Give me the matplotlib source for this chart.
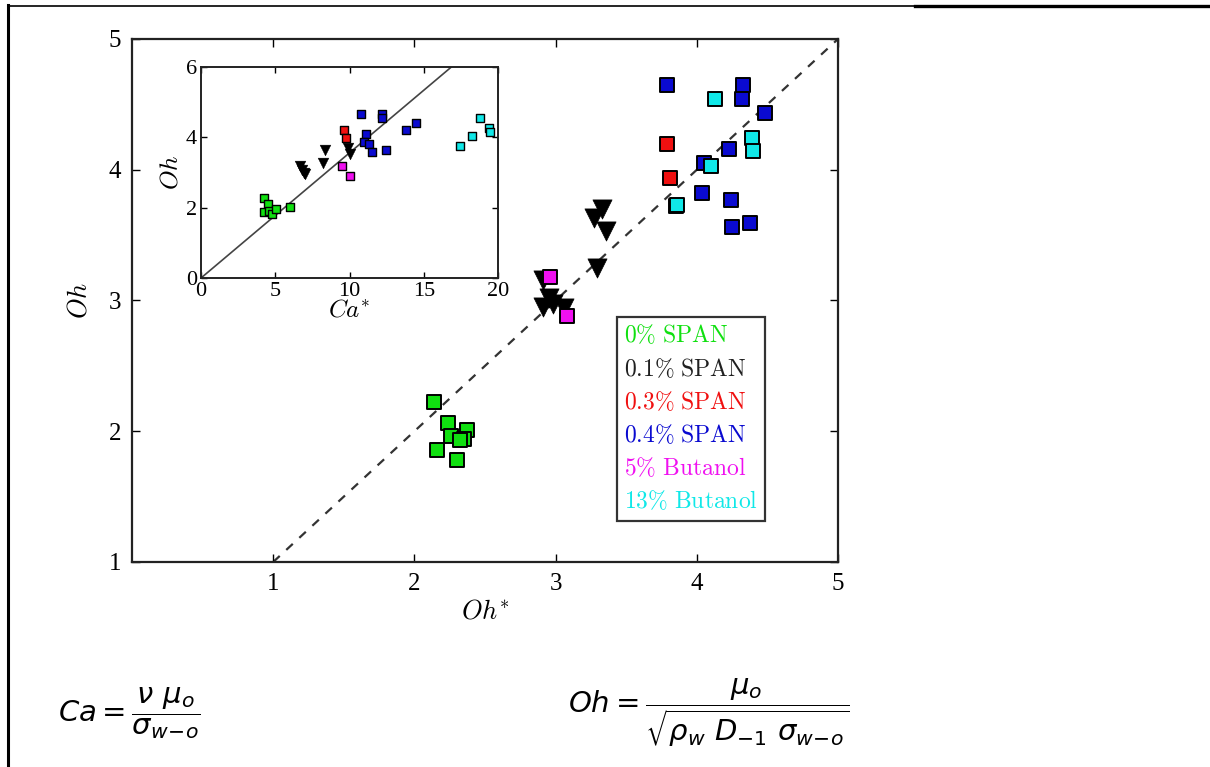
import numpy as np
import matplotlib
matplotlib.use("Agg")
import matplotlib.pyplot as plt
from matplotlib.lines import Line2D

plt.rcParams['mathtext.fontset'] = 'cm'
plt.rcParams['font.family'] = ['Liberation Serif', 'DejaVu Serif']

# main panel: Oh* (x) vs Oh (y)
green_x = [2.14, 2.24, 2.26, 2.37, 2.35, 2.32, 2.16, 2.30]
green_y = [2.22, 2.06, 1.96, 2.01, 1.94, 1.93, 1.86, 1.78]
black_x = [3.33, 3.27, 3.36, 3.29, 2.91, 2.95, 2.91, 2.98, 3.06]
black_y = [3.70, 3.63, 3.53, 3.25, 3.16, 3.02, 2.95, 2.97, 2.94]
red_x = [3.79, 3.81]
red_y = [4.20, 3.94]
blue_x = [3.79, 4.33, 4.32, 4.48, 4.23, 4.05, 4.04, 4.24, 4.25, 4.38, 3.85]
blue_y = [4.65, 4.65, 4.54, 4.43, 4.16, 4.05, 3.82, 3.77, 3.56, 3.59, 3.72]
mag_x = [2.96, 3.08]
mag_y = [3.18, 2.88]
cyan_x = [4.13, 4.39, 4.40, 4.10, 3.86]
cyan_y = [4.54, 4.24, 4.14, 4.03, 3.73]

# inset: Ca* (x) vs Oh (y)
in_green_x = [4.22, 4.49, 4.22, 4.56, 4.78, 5.03, 5.97]
in_green_y = [2.27, 2.10, 1.87, 1.91, 1.82, 1.97, 2.03]
in_black_x = [6.64, 6.80, 6.96, 7.03, 8.19, 8.37, 9.88, 10.01]
in_black_y = [3.18, 3.07, 2.98, 2.96, 3.26, 3.64, 3.71, 3.54]
in_red_x = [9.65, 9.76]
in_red_y = [4.20, 3.99]
in_blue_x = [10.80, 11.13, 10.95, 11.33, 11.52, 12.19, 12.19, 12.46, 13.80, 14.48]
in_blue_y = [4.66, 4.09, 3.87, 3.81, 3.59, 4.66, 4.54, 3.64, 4.20, 4.42]
in_mag_x = [9.47, 10.03]
in_mag_y = [3.18, 2.90]
in_cyan_x = [17.46, 18.25, 18.81, 19.37, 19.48]
in_cyan_y = [3.75, 4.03, 4.54, 4.27, 4.15]

fit_slope = 0.356

labels = ['0% SPAN', '0.1% SPAN', '0.3% SPAN', '0.4% SPAN', '5% Butanol', '13% Butanol']
colors = ['#10e010', '#202020', '#f01010', '#0a0ad0', '#f010f0', '#10e8e8']

fig = plt.figure(figsize=(12.1, 7.67), dpi=100)

# page frame lines
fig.add_artist(Line2D([8/1210, 915/1210], [1-5.8/767, 1-5.8/767], color='k', lw=1.2))
fig.add_artist(Line2D([915/1210, 1.0], [1-5.8/767, 1-5.8/767], color='k', lw=2.4))
fig.add_artist(Line2D([8.3/1210, 8.3/1210], [0, 1-5.2/767], color='k', lw=2.2))

ax = fig.add_axes([0.1091, 0.2673, 0.5835, 0.6819])
ax.plot([1, 5], [1, 5], ls=(0, (4, 4)), color='#333333', lw=1.6, zorder=1)

groups = [(green_x, green_y, 's'), (black_x, black_y, 'v'), (red_x, red_y, 's'),
          (blue_x, blue_y, 's'), (mag_x, mag_y, 's'), (cyan_x, cyan_y, 's')]
handles = []
for (gx, gy, m), c, lab in zip(groups, colors, labels):
    if m == 'v':
        h = ax.scatter(gx, gy, marker='v', s=190, c='k', edgecolors='k', lw=0.5, zorder=3, label=lab)
    else:
        h = ax.scatter(gx, gy, marker='s', s=110, c=c, edgecolors='k', lw=1.4, zorder=3, label=lab)
    handles.append(h)

ax.set_xlim(0, 5)
ax.set_ylim(1, 5)
ax.set_xticks([1, 2, 3, 4, 5])
ax.set_yticks([1, 2, 3, 4, 5])
ax.tick_params(direction='in', top=True, right=True, length=6, width=1, labelsize=18, pad=8)
for s in ax.spines.values():
    s.set_linewidth(1.6)
    s.set_color('#222222')
ax.set_xlabel(r'$Oh^{*}$', fontsize=19, labelpad=3)
ax.set_ylabel(r'$Oh$', fontsize=19, labelpad=12)

leg_labels = [r'$\mathrm{' + l.replace('%', r'\%').replace(' ', r'\ ') + '}$' for l in labels]
leg = ax.legend(handles, leg_labels, loc='upper left', bbox_to_anchor=(0.687, 0.469),
                borderaxespad=0, handlelength=0, handletextpad=0, fontsize=17, frameon=True,
                fancybox=False, edgecolor='k', borderpad=0.3, labelspacing=0.4, labelcolor=colors)
leg.get_frame().set_linewidth(1.6)
for h in leg.legend_handles:
    h.set_visible(False)

# inset
ins = fig.add_axes([0.1661, 0.6375, 0.2455, 0.2751])
ca_line = np.array([0, 6 / fit_slope])
ins.plot(ca_line, fit_slope * ca_line, color='#444444', lw=1.2, zorder=1)
in_groups = [(in_green_x, in_green_y, 's'), (in_black_x, in_black_y, 'v'), (in_red_x, in_red_y, 's'),
             (in_blue_x, in_blue_y, 's'), (in_mag_x, in_mag_y, 's'), (in_cyan_x, in_cyan_y, 's')]
for (gx, gy, m), c in zip(in_groups, colors):
    if m == 'v':
        ins.scatter(gx, gy, marker='v', s=60, c='k', edgecolors='k', lw=0.3, zorder=3)
    else:
        ins.scatter(gx, gy, marker='s', s=36, c=c, edgecolors='k', lw=1.0, zorder=3)
ins.set_xlim(0, 20)
ins.set_ylim(0, 6)
ins.set_xticks([0, 5, 10, 15, 20])
ins.set_yticks([0, 2, 4, 6])
ins.tick_params(direction='in', top=True, right=True, length=4, width=1, labelsize=16, pad=3)
for s in ins.spines.values():
    s.set_linewidth(1.4)
    s.set_color('#222222')
ins.set_xlabel(r'$Ca^{*}$', fontsize=18, labelpad=-1)
ins.set_ylabel(r'$Oh$', fontsize=18, labelpad=2)

# definitions below the chart
fig.text(58/1210, 1-713/767, r'$Ca = \dfrac{\nu\ \mu_o}{\sigma_{w\!-\!o}}$', fontsize=21,
         va='center', ha='left', math_fontfamily='dejavusans')
fig.text(568/1210, 1-713/767, r'$Oh = \dfrac{\mu_o}{\sqrt{\rho_w\ D_{-1}\ \sigma_{w\!-\!o}}}$', fontsize=21,
         va='center', ha='left', math_fontfamily='dejavusans')

plt.savefig('out.png', dpi=100)
